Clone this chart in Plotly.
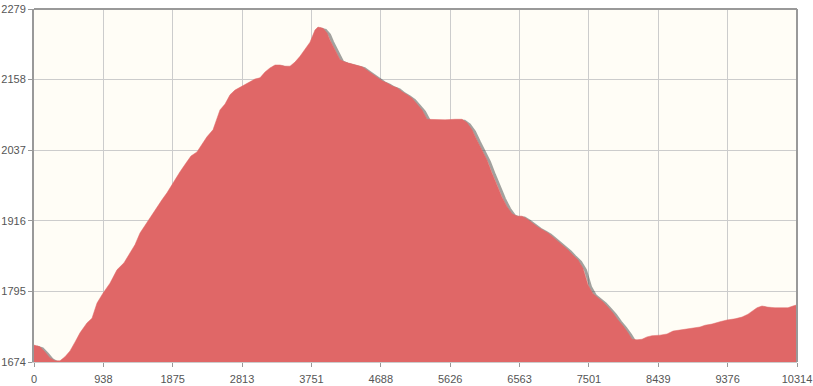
import plotly.graph_objects as go

# distance (m) and elevation (m)
distance = [0, 81, 149, 216, 284, 351, 419, 487, 554, 622, 716, 784, 852, 933, 1027, 1122, 1217, 1298,
            1365, 1433, 1528, 1595, 1663, 1730, 1798, 1879, 1974, 2055, 2122, 2203, 2271, 2338, 2420,
            2514, 2582, 2650, 2717, 2785, 2852, 2920, 2987, 3055, 3123, 3190, 3258, 3325, 3393, 3461,
            3528, 3596, 3663, 3731, 3798, 3839, 3907, 3961, 4001, 4069, 4137, 4204, 4272, 4366, 4434,
            4501, 4569, 4637, 4704, 4772, 4839, 4907, 4975, 5042, 5110, 5177, 5245, 5313, 5421, 5556,
            5691, 5786, 5853, 5921, 5988, 6056, 6124, 6191, 6259, 6326, 6394, 6462, 6529, 6597, 6664,
            6745, 6813, 6881, 6948, 7016, 7083, 7151, 7219, 7286, 7354, 7421, 7489, 7556, 7624, 7692,
            7759, 7827, 7894, 7962, 8030, 8084, 8151, 8219, 8286, 8354, 8462, 8557, 8638, 8733, 8868,
            9003, 9071, 9165, 9273, 9368, 9476, 9571, 9652, 9706, 9774, 9841, 9922, 10017, 10111,
            10192, 10260, 10314]
elevation = [1703, 1700, 1691, 1681, 1676, 1676, 1683, 1693, 1708, 1724, 1741, 1749, 1775, 1792, 1809,
             1832, 1844, 1861, 1875, 1895, 1914, 1926, 1940, 1952, 1964, 1981, 2000, 2015, 2027, 2034,
             2046, 2060, 2072, 2106, 2116, 2132, 2140, 2145, 2150, 2154, 2159, 2161, 2171, 2178, 2183,
             2183, 2181, 2181, 2188, 2198, 2210, 2222, 2243, 2248, 2246, 2238, 2226, 2209, 2192, 2188,
             2186, 2183, 2180, 2174, 2168, 2161, 2156, 2152, 2147, 2144, 2137, 2132, 2126, 2116, 2106,
             2090, 2089, 2089, 2090, 2090, 2084, 2072, 2054, 2037, 2020, 1998, 1977, 1957, 1940, 1928,
             1924, 1924, 1919, 1911, 1905, 1900, 1895, 1888, 1881, 1873, 1866, 1857, 1849, 1835, 1806,
             1791, 1784, 1777, 1768, 1758, 1746, 1736, 1724, 1713, 1712, 1713, 1717, 1719, 1720, 1722,
             1727, 1729, 1731, 1734, 1737, 1739, 1743, 1746, 1748, 1751, 1756, 1761, 1767, 1770, 1768,
             1767, 1767, 1767, 1770, 1772]

x_ticks = [0, 938, 1875, 2813, 3751, 4688, 5626, 6563, 7501, 8439, 9376, 10314]
y_ticks = [1674, 1795, 1916, 2037, 2158, 2279]

SHADOW_DX = 34   # ~2.5 px in distance units
SHADOW_DY = 3.4  # ~2 px in elevation units

fig = go.Figure()
fig.add_trace(go.Scatter(
    x=[d + SHADOW_DX for d in distance],
    y=[e - SHADOW_DY for e in elevation],
    mode="lines",
    line=dict(color="rgba(70,70,70,0.5)", width=3),
    hoverinfo="skip", showlegend=False,
))
fig.add_trace(go.Scatter(
    x=distance, y=elevation, mode="lines",
    fill="tozeroy", fillcolor="#e06767",
    line=dict(color="#e06767", width=0.5),
    showlegend=False,
))

font = dict(family="Liberation Sans, Arial, sans-serif", size=11, color="#555555")
fig.update_layout(
    width=813, height=386,
    margin=dict(l=34, r=16, t=9, b=24, pad=0),
    paper_bgcolor="white", plot_bgcolor="#fffdf6",
    font=font,
    xaxis=dict(range=[0, 10314], tickvals=x_ticks, ticktext=[str(v) for v in x_ticks],
               showgrid=True, gridcolor="#cccccc", gridwidth=1,
               showline=True, linecolor="#cccccc", linewidth=1,
               ticks="outside", ticklen=4, tickcolor="#999999", zeroline=False,
               ticklabelstandoff=3, tickfont=font, automargin=False),
    yaxis=dict(range=[1674, 2279], tickvals=y_ticks, ticktext=[str(v) for v in y_ticks],
               showgrid=True, gridcolor="#cccccc", gridwidth=1,
               showline=True, linecolor="#999999", linewidth=2,
               ticks="outside", ticklen=4, tickcolor="#999999", zeroline=False,
               tickfont=font, automargin=False),
    shapes=[
        dict(type="line", xref="paper", yref="paper", x0=0, x1=1, y0=1, y1=1,
             line=dict(color="#999999", width=2)),
        dict(type="line", xref="paper", yref="paper", x0=1, x1=1, y0=0, y1=1,
             line=dict(color="#999999", width=2)),
    ],
)

fig.write_html("out.html")
